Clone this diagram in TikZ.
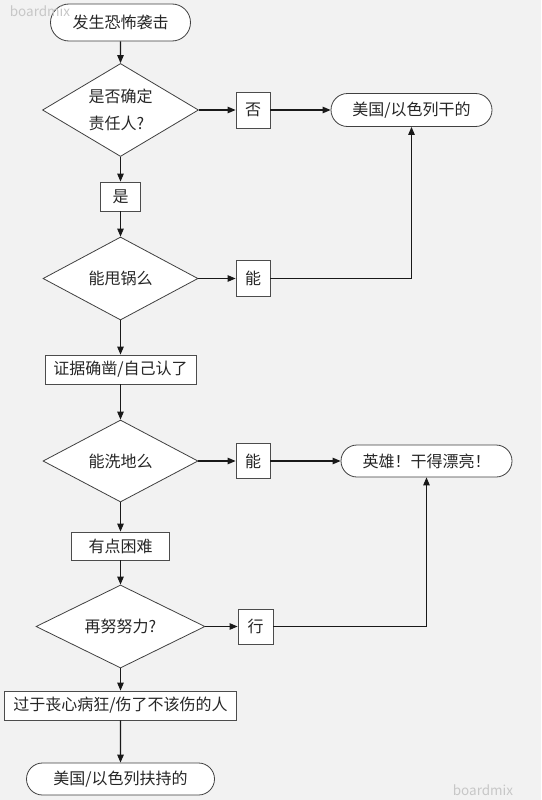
\documentclass[tikz,border=0pt]{standalone}
\usepackage{fontspec}
\setmainfont{Noto Sans CJK SC}
\usetikzlibrary{shapes.geometric,shapes.misc,arrows.meta}
\begin{document}
\begin{tikzpicture}[x=1pt,y=-1pt,
 every node/.style={font=\fontsize{16}{27}\selectfont, text=black!85},
 term/.style={draw=black!75, fill=white, rounded rectangle, minimum height=33pt, inner sep=0pt, line width=0.8pt},
 box/.style={draw=black!70, fill=white, rectangle, inner sep=0pt, line width=0.8pt},
 dec/.style={draw=black!75, fill=white, diamond, inner sep=0pt, shape aspect=1.8, line width=0.8pt},
 arr/.style={-{Triangle[length=8pt,width=6.5pt]}, line width=1.1pt, black!90},
 wm/.style={text=black!22, font=\fontsize{13.5}{13.5}\selectfont}
]
\fill[black!5] (0,0) rectangle (541,800);
\useasboundingbox (0,0) rectangle (541,800);

\node[term, minimum width=140pt, minimum height=37pt] (start) at (120.5,22.5) {发生恐怖袭击};
\node[dec, minimum width=156pt, minimum height=93pt, align=left] (d1) at (120.5,110) {\raisebox{-3pt}{是否确定}\\\raisebox{-3pt}{责任人?}};
\node[box, minimum width=34pt, minimum height=36pt] (no1) at (253,110) {否};
\node[term, minimum width=161pt] (t1) at (411.5,110) {美国/以色列干的};
\node[box, minimum width=40pt, minimum height=29pt] (yes) at (120.5,196.5) {是};
\node[dec, minimum width=155pt, minimum height=83pt] (d2) at (120.5,278.5) {能甩锅么};
\node[box, minimum width=34pt, minimum height=36pt] (neng1) at (253,278.5) {能};
\node[box, minimum width=151pt, minimum height=29pt] (b1) at (120.5,369.5) {证据确凿/自己认了};
\node[dec, minimum width=155pt, minimum height=82pt] (d3) at (120.5,461) {能洗地么};
\node[box, minimum width=34pt, minimum height=35pt] (neng2) at (253,461) {能};
\node[term, minimum width=171pt, minimum height=32pt] (t2) at (426.5,461) {英雄！干得漂亮！};
\node[box, minimum width=98pt, minimum height=28pt] (b2) at (120.5,546) {有点困难};
\node[dec, minimum width=169pt, minimum height=83pt] (d4) at (120.5,626.5) {再努努力?};
\node[box, minimum width=35pt, minimum height=35pt] (xing) at (255.5,626.5) {行};
\node[box, minimum width=232pt, minimum height=29pt] (b3) at (120.5,705.5) {过于丧心病狂/伤了不该伤的人};
\node[term, minimum width=188pt, minimum height=32pt] (t3) at (120.5,779) {美国/以色列扶持的};

\draw[arr] (start) -- (d1);
\draw[arr] (d1.east) -- (no1.west);
\draw[arr] (no1) -- (t1);
\draw[arr] (d1.south) -- (yes.north);
\draw[arr] (yes) -- (d2);
\draw[arr] (d2.east) -- (neng1.west);
\draw[arr] (neng1.east) -| (t1.south);
\draw[arr] (d2) -- (b1);
\draw[arr] (b1) -- (d3);
\draw[arr] (d3.east) -- (neng2.west);
\draw[arr] (neng2) -- (t2);
\draw[arr] (d3) -- (b2);
\draw[arr] (b2) -- (d4);
\draw[arr] (d4.east) -- (xing.west);
\draw[arr] (xing.east) -| (t2.south);
\draw[arr] (d4) -- (b3);
\draw[arr] (b3) -- (t3);

\node[wm] (wm1) at (40,11) {boardmix};
\node[wm] (wm2) at (483,790) {boardmix};
\end{tikzpicture}
\end{document}
